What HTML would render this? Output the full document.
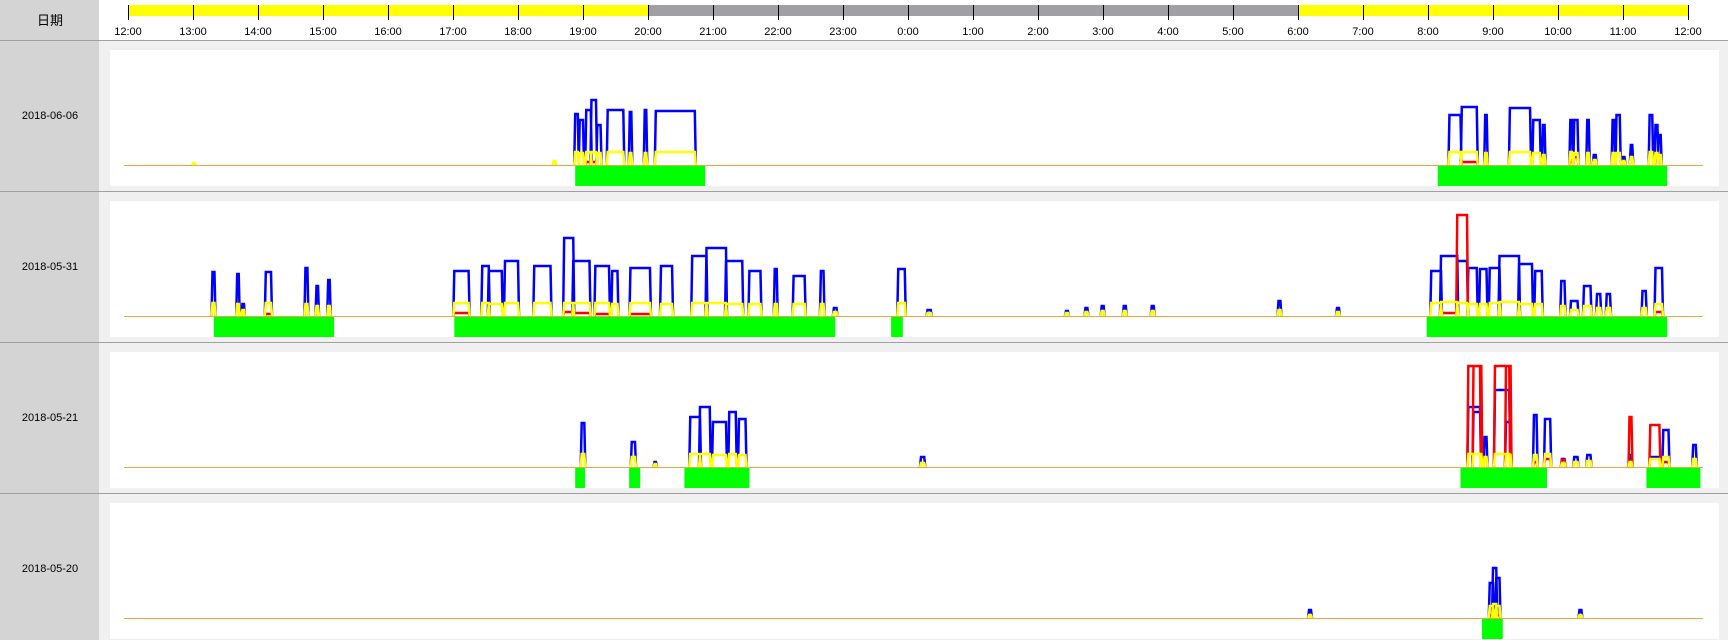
<!DOCTYPE html>
<html><head><meta charset="utf-8"><style>
html,body{margin:0;padding:0;background:#f0f0f0;width:1728px;height:640px;overflow:hidden}
svg{display:block}
text{font-family:"Liberation Sans","Noto Sans CJK SC",sans-serif}
</style></head><body>
<svg id="chart" width="1728" height="640" viewBox="0 0 1728 640" xmlns="http://www.w3.org/2000/svg"></svg>
<script>
const hourLabels = ["12:00","13:00","14:00","15:00","16:00","17:00","18:00","19:00","20:00","21:00","22:00","23:00","0:00","1:00","2:00","3:00","4:00","5:00","6:00","7:00","8:00","9:00","10:00","11:00","12:00"];
const dayBands = [[0,8,"#ffff00"],[8,18,"#a0a0a4"],[18,24,"#ffff00"]];
const dates = ["2018-06-06","2018-05-31","2018-05-21","2018-05-20"];

const greens0 = [[6.88,8.88],[20.15,23.68]];
const greens1 = [[1.32,3.17],[5.02,10.88],[11.74,11.92],[19.98,23.68]];
const greens2 = [[6.88,7.03],[7.71,7.88],[8.56,9.56],[20.5,21.83],[23.36,24.19]];
const greens3 = [[20.83,21.15]];

const pStart0 = [1.0,6.55,6.88,6.95,7.05,7.13,7.22,7.38,7.72,7.95,8.12,20.33,20.52,20.88,21.26,21.62,21.77,22.19,22.25,22.45,22.55,22.84,22.9,23.0,23.12,23.41,23.5,23.55];
const pEnd0   = [1.02,6.57,6.92,7.0,7.12,7.2,7.27,7.62,7.74,7.97,8.72,20.5,20.75,20.9,21.57,21.72,21.79,22.21,22.3,22.47,22.58,22.86,22.95,23.02,23.14,23.45,23.53,23.58];
const blue0   = [0,0,51,45,55,65,40,55,53,55,54,50,58,50,57,45,40,45,45,45,10,45,50,8,20,50,40,30];
const yel0    = [2,4,13,12,13,13,12,13,12,12,13,13,13,12,13,12,10,13,12,12,5,12,12,4,8,13,12,10];
const red0    = [0,0,0,0,3,3,0,0,0,0,0,0,3,0,0,0,0,5,8,0,0,0,0,0,0,0,0,0];

const pStart1 = [1.30,1.68,1.76,2.12,2.73,2.9,3.08,5.02,5.45,5.55,5.8,6.25,6.71,6.85,7.19,7.45,7.73,8.2,8.68,8.9,9.2,9.56,9.95,10.24,10.66,10.86,11.85,12.3,14.43,14.73,14.98,15.32,15.75,17.7,18.6,20.05,20.2,20.45,20.62,20.8,20.95,21.1,21.4,21.65,22.05,22.2,22.4,22.6,22.75,23.3,23.5];
const pEnd1   = [1.33,1.7,1.78,2.2,2.76,2.92,3.1,5.24,5.55,5.75,6.0,6.5,6.85,7.1,7.4,7.53,8.03,8.37,8.9,9.2,9.45,9.73,9.98,10.41,10.7,10.9,11.95,12.35,14.46,14.76,15.01,15.35,15.78,17.73,18.63,20.2,20.45,20.6,20.75,20.9,21.1,21.4,21.6,21.75,22.1,22.3,22.5,22.65,22.8,23.35,23.6];
const blue1   = [44,42,12,44,48,30,36,45,50,45,55,50,78,55,50,45,48,50,60,68,55,45,47,40,45,8,47,6,5,8,10,10,10,15,8,45,60,55,48,47,48,60,52,45,35,15,30,22,22,25,48];
const yel1    = [13,12,6,13,12,10,10,13,13,12,13,13,13,13,13,12,13,12,13,13,12,12,12,12,12,4,13,3,3,4,5,5,5,6,4,13,14,13,12,12,13,14,12,12,10,6,10,8,8,8,12];
const red1    = [0,0,0,2,0,0,0,3,0,0,0,0,4,3,2,0,2,0,0,0,0,0,0,0,0,0,0,0,0,0,0,0,0,0,0,0,3,101,0,0,0,0,0,0,0,0,0,0,0,0,4];

const pStart2 = [6.98,7.75,8.1,8.65,8.8,9.0,9.25,9.4,12.2,20.62,20.7,20.87,21.03,21.2,21.63,21.8,22.06,22.25,22.45,23.1,23.42,23.62,24.08];
const pEnd2   = [7.02,7.8,8.12,8.8,8.95,9.2,9.35,9.5,12.25,20.8,20.82,20.9,21.25,21.27,21.67,21.88,22.1,22.3,22.5,23.13,23.56,23.7,24.12];
const blue2   = [44,25,5,50,60,45,55,48,10,60,55,30,77,45,52,48,8,10,12,12,10,37,22];
const yel2    = [13,10,3,13,13,12,13,12,4,13,13,10,13,12,12,13,4,5,6,5,8,10,8];
const red2    = [0,0,0,0,0,0,0,0,0,101,101,0,101,101,5,8,7,0,0,50,42,5,0];

const pStart3 = [18.17,20.95,21.0,21.05,22.33];
const pEnd3   = [18.2,21.0,21.05,21.1,22.36];
const blue3   = [8,35,50,40,8];
const yel3    = [3,12,14,12,3];
const red3    = [0,3,5,3,0];

const rows = [
  {g:greens0,s:pStart0,e:pEnd0,b:blue0,y:yel0,r:red0},
  {g:greens1,s:pStart1,e:pEnd1,b:blue1,y:yel1,r:red1},
  {g:greens2,s:pStart2,e:pEnd2,b:blue2,y:yel2,r:red2},
  {g:greens3,s:pStart3,e:pEnd3,b:blue3,y:yel3,r:red3}
];

const NS="http://www.w3.org/2000/svg";
const svg=document.getElementById('chart');
function el(tag,attrs,parent){const e=document.createElementNS(NS,tag);for(const k in attrs)e.setAttribute(k,attrs[k]);(parent||svg).appendChild(e);return e;}
const X0=128, HW=65;
function xScale(h){return X0+h*HW;}
const ROW_H=151;
function baseY(i){return 165+i*ROW_H;}

const lc=el('rect',{x:0,y:0,width:99,height:640,fill:'#d4d4d4'});


const hb=el('rect',{x:99,y:0,width:1629,height:40,fill:'#ffffff'});


const ht=el('text',{x:50,y:25,'font-size':13,'text-anchor':'middle',fill:'#000'});
ht.textContent='日期';



dayBands.forEach(b=>{
  const r=el('rect',{x:xScale(b[0]),y:5,width:xScale(b[1])-xScale(b[0]),height:11,fill:b[2]});
  
  
});
hourLabels.forEach((lab,i)=>{
  const x=xScale(i);
  const t=el('line',{x1:x+0.5,x2:x+0.5,y1:5,y2:20,stroke:'#000','stroke-width':1});
  
  
  const tx=el('text',{x:x,y:35,'font-size':11,'text-anchor':'middle',fill:'#000'});
  tx.textContent=lab;
  
  
});
const hl=el('rect',{x:0,y:40,width:1728,height:1,fill:'#a0a0a0'});



rows.forEach((row,i)=>{
  const by=baseY(i);
  const panel=el('rect',{x:110,y:by-115,width:1609,height:136,fill:'#ffffff'});
  
  
  const dl=el('text',{x:50,y:by-46,'font-size':11,'text-anchor':'middle',fill:'#000'});
  dl.textContent=dates[i];
  
  
  if(i<3){
    const sep=el('rect',{x:0,y:by+26,width:1728,height:1,fill:'#a0a0a0'});
    
    
  }
  row.g.forEach(g=>{
    const r=el('rect',{x:xScale(g[0]),y:by+1,width:xScale(g[1])-xScale(g[0]),height:20,fill:'#00ff00'});
    
    
  });
  const bl=el('line',{x1:124,x2:1703,y1:by+0.5,y2:by+0.5,stroke:'#e8a840','stroke-width':1});
  
  
  const clipTop=by-101;
  function series(vals,color,name,w){
    let d='';
    vals.forEach((v,k)=>{
      if(!v)return;
      const vv=Math.min(v,by-clipTop);
      const xs=xScale(row.s[k]),xe=Math.max(xScale(row.e[k]),xs+1.5);
      d+=`M${xs-1},${by} L${xs},${by-vv} L${xe},${by-vv} L${xe+1},${by} `;
    });
    const p=el('path',{d:d,fill:'none',stroke:color,'stroke-width':w,'stroke-linejoin':'miter'});
    
    
  }
  series(row.b,'#0000ff','blue-series',2.5);
  series(row.r,'#ff0000','red-series',2.5);
  series(row.y,'#ffff00','yellow-series',2.5);
});
</script>
</body></html>
